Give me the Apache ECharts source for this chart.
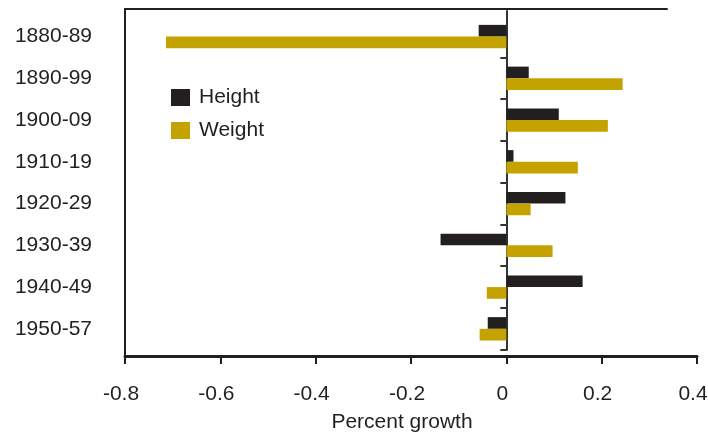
<!DOCTYPE html>
<html>
<head>
<meta charset="utf-8">
<script src="https://cdn.jsdelivr.net/npm/echarts@6/dist/echarts.min.js"></script>
<style>
html,body{margin:0;padding:0;background:#fff;}
#chart{width:708px;height:435px;}
</style>
</head>
<body>
<div id="chart"></div>
<script>
var categories = ['1880-89','1890-99','1900-09','1910-19','1920-29','1930-39','1940-49','1950-57'];
var heightGrowth = [-0.058, 0.047, 0.110, 0.015, 0.124, -0.138, 0.160, -0.039];
var weightGrowth = [-0.714, 0.244, 0.213, 0.150, 0.051, 0.097, -0.041, -0.056];
var xTicks = [-0.8, -0.6, -0.4, -0.2, 0, 0.2, 0.4];
var xTickLabels = ['-0.8', '-0.6', '-0.4', '-0.2', '0', '0.2', '0.4'];
var seriesNames = ['Height', 'Weight'];

var FONT = '"Liberation Sans", Arial, Helvetica, sans-serif';
var INK = '#231f20';
var GOLD = '#c4a300';
var ZERO = '#333';
var xMin = xTicks[0], xMax = xTicks[xTicks.length - 1];
var xStep = Math.round((xTicks[1] - xTicks[0]) * 10) / 10;

function tickLabel(v) {
  for (var i = 0; i < xTicks.length; i++) {
    if (Math.abs(xTicks[i] - v) < 1e-6) return xTickLabels[i];
  }
  return '';
}

var chart = echarts.init(document.getElementById('chart'), null, {renderer: 'canvas'});
chart.setOption({
  animation: false,
  backgroundColor: '#fff',
  textStyle: {fontFamily: FONT, color: INK},
  legend: {
    data: seriesNames,
    orient: 'vertical',
    left: 171,
    top: 87,
    padding: 0,
    itemWidth: 19,
    itemHeight: 17,
    itemGap: 12,
    icon: 'rect',
    textStyle: {fontFamily: FONT, fontSize: 21, color: INK, padding: [0, 0, 0, 4]}
  },
  grid: [
    {left: 125, right: 11, top: 9, bottom: 79, containLabel: false, outerBoundsMode: 'none'},
    {left: 125, right: 11, top: 15.7, bottom: 85.3, containLabel: false, outerBoundsMode: 'none'},
    {left: 125, width: 542, top: 9, bottom: 79, containLabel: false, outerBoundsMode: 'none'},
    {left: 125, right: 11, top: 11, bottom: 85.3, containLabel: false, outerBoundsMode: 'none'}
  ],
  xAxis: [
    {
      gridIndex: 0, type: 'value', position: 'bottom',
      min: xMin, max: xMax, interval: xStep,
      axisLine: {show: true, onZero: false, lineStyle: {color: INK, width: 3}},
      axisTick: {show: true, length: 8, lineStyle: {color: INK, width: 2}},
      axisLabel: {show: true, margin: 28, fontFamily: FONT, fontSize: 21, color: INK,
                  padding: [0, 8, 0, 0], formatter: tickLabel},
      splitLine: {show: false},
      name: 'Percent growth', nameLocation: 'middle', nameGap: 56,
      nameTextStyle: {fontFamily: FONT, fontSize: 21, color: INK, padding: [0, 18, 0, 0]}
    },
    {
      gridIndex: 1, type: 'value', min: xMin, max: xMax, interval: xStep,
      show: false
    },
    {
      gridIndex: 2, type: 'value', position: 'top', min: 0, max: 1,
      axisLine: {show: true, onZero: false, lineStyle: {color: INK, width: 2}},
      axisTick: {show: false}, axisLabel: {show: false}, splitLine: {show: false}
    },
    {
      gridIndex: 3, type: 'value', min: xMin, max: xMax, interval: xStep,
      show: false
    }
  ],
  yAxis: [
    {
      gridIndex: 0, type: 'value', position: 'left', min: 0, max: 1,
      axisLine: {show: true, onZero: false, lineStyle: {color: INK, width: 2}},
      axisTick: {show: false}, axisLabel: {show: false}, splitLine: {show: false}
    },
    {
      gridIndex: 1, type: 'category', data: categories, inverse: true, position: 'left',
      axisLine: {show: true, onZero: true, lineStyle: {color: ZERO, width: 2}},
      axisTick: {show: true, length: 6, interval: function (idx) { return idx !== 0; },
                 lineStyle: {color: ZERO, width: 2}},
      axisLabel: {show: false},
      splitLine: {show: false}
    },
    {
      gridIndex: 1, type: 'category', data: categories, inverse: true, position: 'left',
      axisLine: {show: false, onZero: false},
      axisTick: {show: false},
      axisLabel: {show: true, margin: 33, fontFamily: FONT, fontSize: 21, color: INK},
      splitLine: {show: false}
    },
    {
      gridIndex: 2, type: 'value', min: 0, max: 1, show: false
    },
    {
      gridIndex: 3, type: 'value', min: 0, max: 1, position: 'left',
      axisLine: {show: true, onZero: true, lineStyle: {color: ZERO, width: 2}},
      axisTick: {show: false}, axisLabel: {show: false}, splitLine: {show: false}
    }
  ],
  series: [
    {
      name: seriesNames[0], type: 'bar', xAxisIndex: 1, yAxisIndex: 1,
      data: heightGrowth, barGap: '0%', barCategoryGap: '44%',
      itemStyle: {color: INK}
    },
    {
      name: seriesNames[1], type: 'bar', xAxisIndex: 1, yAxisIndex: 1,
      data: weightGrowth, barGap: '0%', barCategoryGap: '44%',
      itemStyle: {color: GOLD}
    }
  ]
});
</script>
</body>
</html>
